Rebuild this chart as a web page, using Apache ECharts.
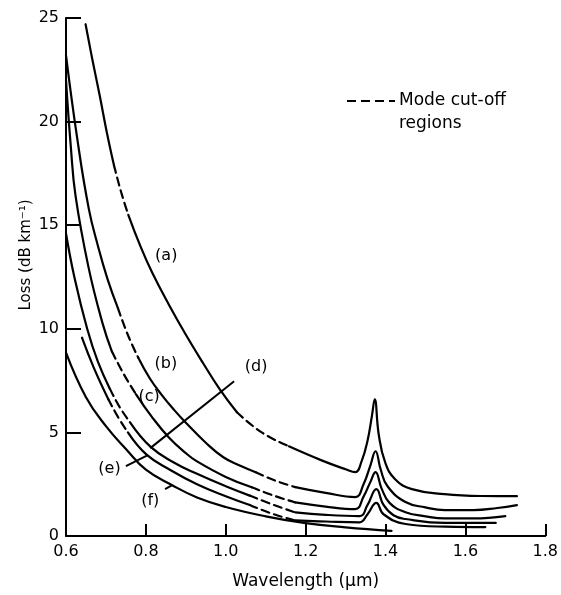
<!DOCTYPE html>
<html><head><meta charset="utf-8">
<script src="https://cdn.jsdelivr.net/npm/echarts@6/dist/echarts.min.js"></script>
<style>html,body{margin:0;padding:0;background:#fff}#c{width:561px;height:595px}</style>
</head><body><div id="c"></div>
<script>
// ---- data ----
const xTickLabels = ['0.6','0.8','1.0','1.2','1.4','1.6','1.8'];
const yTickLabels = ['0','5','10','15','20','25'];

const curveA = [[0.649,24.7],[0.667,22.9],[0.685,21.2],[0.702,19.5],[0.72,17.9],[0.738,16.6],[0.756,15.5],[0.786,14.0],[0.816,12.7],[0.858,11.15],[0.899,9.75],[0.943,8.35],[0.986,7.05],[1.028,5.97],[1.09,5.0],[1.158,4.33],[1.24,3.65],[1.3,3.22],[1.324,3.08],[1.34,3.6],[1.355,4.6],[1.366,5.8],[1.373,6.6],[1.383,4.9],[1.399,3.56],[1.424,2.74],[1.466,2.26],[1.548,2.02],[1.64,1.93],[1.729,1.92]];
const dashA = [[0.72,0.756],[1.028,1.158]];

const curveB = [[0.6,23.2],[0.628,19.2],[0.657,15.8],[0.68,14.0],[0.704,12.4],[0.73,11.0],[0.755,9.7],[0.781,8.6],[0.81,7.6],[0.84,6.8],[0.87,6.1],[0.899,5.49],[0.95,4.5],[0.994,3.8],[1.035,3.4],[1.075,3.08],[1.12,2.7],[1.174,2.36],[1.25,2.08],[1.324,1.88],[1.345,2.5],[1.362,3.4],[1.375,4.09],[1.388,3.2],[1.405,2.4],[1.45,1.64],[1.5,1.38],[1.548,1.25],[1.62,1.25],[1.68,1.35],[1.729,1.49]];
const dashB = [[0.73,0.781],[1.075,1.174]];

const curveC = [[0.6,22.0],[0.612,18.8],[0.624,16.4],[0.656,13.0],[0.691,10.3],[0.715,8.9],[0.745,7.8],[0.775,6.85],[0.815,5.75],[0.857,4.77],[0.9,4.0],[0.928,3.6],[1.0,2.85],[1.065,2.35],[1.12,1.95],[1.174,1.62],[1.25,1.42],[1.324,1.3],[1.345,1.9],[1.362,2.6],[1.375,3.08],[1.39,2.3],[1.41,1.6],[1.45,1.15],[1.5,0.95],[1.548,0.85],[1.62,0.85],[1.70,0.96]];
const dashC = [[0.715,0.775],[1.065,1.174]];

const curveD = [[0.6,14.6],[0.622,12.4],[0.653,10.0],[0.68,8.4],[0.71,7.1],[0.735,6.2],[0.76,5.5],[0.812,4.3],[0.87,3.55],[0.928,3.0],[1.0,2.4],[1.06,1.95],[1.12,1.5],[1.174,1.14],[1.25,1.02],[1.335,0.96],[1.355,1.5],[1.377,2.26],[1.395,1.5],[1.42,1.0],[1.45,0.82],[1.548,0.63],[1.676,0.63]];
const dashD = [[0.71,0.76],[1.06,1.174]];

const curveE = [[0.64,9.57],[0.67,8.1],[0.706,6.6],[0.73,5.75],[0.755,5.0],[0.801,3.94],[0.86,3.2],[0.928,2.5],[1.0,1.92],[1.06,1.5],[1.12,1.05],[1.174,0.75],[1.25,0.7],[1.335,0.66],[1.355,1.05],[1.377,1.6],[1.395,1.05],[1.45,0.58],[1.55,0.45],[1.65,0.43]];
const dashE = [[0.706,0.755],[1.06,1.174]];

const curveF = [[0.6,8.85],[0.65,6.7],[0.7,5.3],[0.75,4.2],[0.8,3.2],[0.866,2.45],[0.928,1.86],[1.0,1.4],[1.1,0.95],[1.2,0.62],[1.3,0.42],[1.415,0.25]];
const dashF = [];

const curveLabels = [[0.851,13.5,'(a)'],[0.85,8.3,'(b)'],[0.808,6.7,'(c)'],[1.076,8.14,'(d)'],[0.709,3.23,'(e)'],[0.811,1.69,'(f)']];
const pointerD = [[1.021,7.47],[0.811,4.24]];
const pointerE = [[0.75,3.37],[0.805,3.9]];
const pointerF = [[0.848,2.26],[0.866,2.45]];

// ---- build ----
const FONT = 'DejaVu Sans';
function splitSegments(pts, ranges){
  const segs=[]; let cur=null;
  for(let i=0;i<pts.length-1;i++){
    const mid=(pts[i][0]+pts[i+1][0])/2;
    const dashed=ranges.some(r=>mid>r[0]&&mid<r[1]);
    if(!cur||cur.dashed!==dashed){cur={dashed,pts:[pts[i]]};segs.push(cur);}
    cur.pts.push(pts[i+1]);
  }
  return segs;
}
const series=[];
[[curveA,dashA],[curveB,dashB],[curveC,dashC],[curveD,dashD],[curveE,dashE],[curveF,dashF]].forEach(([c,d])=>{
  splitSegments(c,d).forEach(s=>{
    series.push({type:'line',data:s.pts,showSymbol:false,smooth:0.45,silent:true,
      lineStyle:{color:'#000',width:2.2,type:s.dashed?[8,5]:'solid',cap:'round',join:'round'}});
  });
});
[pointerD,pointerE,pointerF].forEach(p=>{
  series.push({type:'line',data:p,showSymbol:false,silent:true,lineStyle:{color:'#000',width:2}});
});
series.push({type:'scatter',data:curveLabels,symbolSize:0,silent:true,
  label:{show:true,position:'inside',formatter:p=>p.data[2],color:'#000',opacity:1,
    textBorderWidth:0,textBorderColor:'transparent',fontSize:16,fontFamily:FONT}});

const chart=echarts.init(document.getElementById('c'));
chart.setOption({
  animation:false,
  backgroundColor:'#fff',
  grid:{left:66,right:9,top:18,bottom:58},
  xAxis:{type:'value',min:0.6,max:1.8,interval:0.2,
    axisLine:{lineStyle:{color:'#000',width:2}},
    axisTick:{inside:true,length:12,lineStyle:{color:'#000',width:2}},
    axisLabel:{color:'#000',fontSize:16,fontFamily:FONT,margin:8,showMinLabel:true,showMaxLabel:true,
      formatter:v=>xTickLabels[Math.round((v-0.6)/0.2)]},
    splitLine:{show:false},
    name:'Wavelength (µm)',nameLocation:'middle',nameGap:37,
    nameTextStyle:{color:'#000',fontSize:17,fontFamily:FONT}},
  yAxis:{type:'value',min:0,max:25,interval:5,
    axisLine:{show:true,lineStyle:{color:'#000',width:2}},
    axisTick:{show:true,inside:true,length:15,lineStyle:{color:'#000',width:2}},
    axisLabel:{color:'#000',fontSize:16,fontFamily:FONT,margin:7,
      formatter:v=>yTickLabels[Math.round(v/5)]},
    splitLine:{show:false}},
  graphic:{elements:[
    {type:'text',x:26,y:255,rotation:Math.PI/2,
      style:{text:'Loss (dB km⁻¹)',font:'15px '+FONT,fill:'#000',align:'center',verticalAlign:'middle'}},
    {type:'line',shape:{x1:347,y1:101,x2:395,y2:101},style:{stroke:'#000',lineWidth:2,lineDash:[9,5]}},
    {type:'text',x:399,y:101,style:{text:'Mode cut-off',font:'17px '+FONT,fill:'#000',align:'left',verticalAlign:'middle'}},
    {type:'text',x:399,y:124,style:{text:'regions',font:'17px '+FONT,fill:'#000',align:'left',verticalAlign:'middle'}}
  ]},
  series
});
</script></body></html>
